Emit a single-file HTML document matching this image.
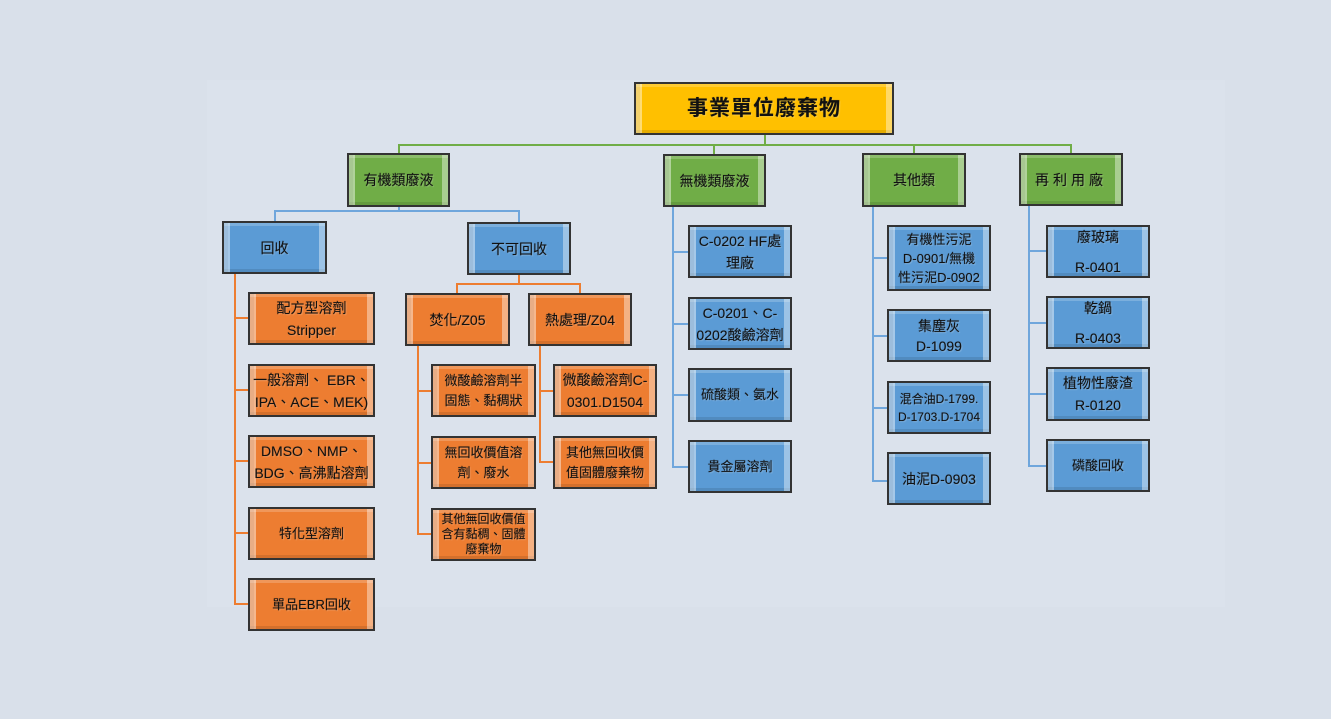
<!DOCTYPE html>
<html><head><meta charset="utf-8"><style>
body{margin:0;width:1331px;height:719px;background:#d9e0ea;position:relative;overflow:hidden;font-family:"Liberation Sans","Noto Sans CJK TC",sans-serif}
.panel{position:absolute;left:207px;top:80px;width:1018px;height:527px;background:#dbe2ec}
.b{position:absolute;box-sizing:border-box;border:2px solid #333;display:flex;align-items:center;justify-content:center;text-align:center;font-size:13px;line-height:20px;color:#111;text-shadow:0 0 1px rgba(0,0,0,0.35),1px 1px 1px rgba(255,255,255,0.25);
box-shadow:inset 4px 0 0 rgba(0,0,0,0.05),inset 6px 0 0 rgba(255,255,255,0.45),inset -6px 0 0 rgba(255,255,255,0.4),inset 0 3px 0 rgba(255,255,255,0.2),inset 0 -3px 0 rgba(0,0,0,0.1)}
.y{background:#ffc000;font-size:21px;font-weight:bold;letter-spacing:1px}
.g{background:#70ad47;font-size:14px}
.u{background:#5b9bd5}
.o{background:#ed7d31}
.l{position:absolute}
.lg{background:#70ad47}.lu{background:#6fa6dc}.lo{background:#ed7d31}
</style></head><body>
<div class="panel"></div>
<div class="l lg" style="left:764px;top:134px;width:2px;height:11px"></div>
<div class="l lg" style="left:398px;top:144px;width:673px;height:2px"></div>
<div class="l lg" style="left:398px;top:144px;width:2px;height:10px"></div>
<div class="l lg" style="left:713px;top:144px;width:2px;height:10px"></div>
<div class="l lg" style="left:913px;top:144px;width:2px;height:10px"></div>
<div class="l lg" style="left:1070px;top:144px;width:2px;height:10px"></div>
<div class="l lu" style="left:398px;top:206px;width:2px;height:6px"></div>
<div class="l lu" style="left:274px;top:210px;width:246px;height:2px"></div>
<div class="l lu" style="left:274px;top:210px;width:2px;height:12px"></div>
<div class="l lu" style="left:518px;top:210px;width:2px;height:12px"></div>
<div class="l lo" style="left:234px;top:273px;width:2px;height:332px"></div>
<div class="l lo" style="left:234px;top:317px;width:14px;height:2px"></div>
<div class="l lo" style="left:234px;top:389px;width:14px;height:2px"></div>
<div class="l lo" style="left:234px;top:460px;width:14px;height:2px"></div>
<div class="l lo" style="left:234px;top:532px;width:14px;height:2px"></div>
<div class="l lo" style="left:234px;top:603px;width:14px;height:2px"></div>
<div class="l lo" style="left:518px;top:274px;width:2px;height:10px"></div>
<div class="l lo" style="left:456px;top:283px;width:125px;height:2px"></div>
<div class="l lo" style="left:456px;top:283px;width:2px;height:10px"></div>
<div class="l lo" style="left:579px;top:283px;width:2px;height:10px"></div>
<div class="l lo" style="left:417px;top:345px;width:2px;height:190px"></div>
<div class="l lo" style="left:417px;top:390px;width:14px;height:2px"></div>
<div class="l lo" style="left:417px;top:462px;width:14px;height:2px"></div>
<div class="l lo" style="left:417px;top:533px;width:14px;height:2px"></div>
<div class="l lo" style="left:539px;top:345px;width:2px;height:118px"></div>
<div class="l lo" style="left:539px;top:390px;width:14px;height:2px"></div>
<div class="l lo" style="left:539px;top:461px;width:14px;height:2px"></div>
<div class="l lu" style="left:672px;top:206px;width:2px;height:262px"></div>
<div class="l lu" style="left:672px;top:251px;width:16px;height:2px"></div>
<div class="l lu" style="left:672px;top:323px;width:16px;height:2px"></div>
<div class="l lu" style="left:672px;top:394px;width:16px;height:2px"></div>
<div class="l lu" style="left:672px;top:466px;width:16px;height:2px"></div>
<div class="l lu" style="left:872px;top:206px;width:2px;height:276px"></div>
<div class="l lu" style="left:872px;top:257px;width:15px;height:2px"></div>
<div class="l lu" style="left:872px;top:335px;width:15px;height:2px"></div>
<div class="l lu" style="left:872px;top:407px;width:15px;height:2px"></div>
<div class="l lu" style="left:872px;top:480px;width:15px;height:2px"></div>
<div class="l lu" style="left:1028px;top:205px;width:2px;height:262px"></div>
<div class="l lu" style="left:1028px;top:250px;width:18px;height:2px"></div>
<div class="l lu" style="left:1028px;top:322px;width:18px;height:2px"></div>
<div class="l lu" style="left:1028px;top:393px;width:18px;height:2px"></div>
<div class="l lu" style="left:1028px;top:465px;width:18px;height:2px"></div>

<div class="b y" style="left:634px;top:82px;width:260px;height:53px">事業單位廢棄物</div>
<div class="b g" style="left:347px;top:153px;width:103px;height:54px">有機類廢液</div>
<div class="b g" style="left:663px;top:154px;width:103px;height:53px">無機類廢液</div>
<div class="b g" style="left:862px;top:153px;width:104px;height:54px">其他類</div>
<div class="b g" style="left:1019px;top:153px;width:104px;height:53px;letter-spacing:4px">再利用廠</div>

<div class="b u" style="left:222px;top:221px;width:105px;height:53px;font-size:14px">回收</div>
<div class="b u" style="left:467px;top:222px;width:104px;height:53px;font-size:14px">不可回收</div>

<div class="b o" style="left:248px;top:292px;width:127px;height:53px;font-size:14px;line-height:22px">配方型溶劑<br>Stripper</div>
<div class="b o" style="left:248px;top:364px;width:127px;height:53px;font-size:14px;line-height:22px">一般溶劑、 EBR、<br>IPA、ACE、MEK)</div>
<div class="b o" style="left:248px;top:435px;width:127px;height:53px;font-size:14px;line-height:22px">DMSO、NMP、<br>BDG、高沸點溶劑</div>
<div class="b o" style="left:248px;top:507px;width:127px;height:53px">特化型溶劑</div>
<div class="b o" style="left:248px;top:578px;width:127px;height:53px">單品EBR回收</div>

<div class="b o" style="left:405px;top:293px;width:105px;height:53px;font-size:14px">焚化/Z05</div>
<div class="b o" style="left:528px;top:293px;width:104px;height:53px;font-size:14px">熱處理/Z04</div>

<div class="b o" style="left:431px;top:364px;width:105px;height:53px">微酸鹼溶劑半<br>固態、黏稠狀</div>
<div class="b o" style="left:431px;top:436px;width:105px;height:53px">無回收價值溶<br>劑、廢水</div>
<div class="b o" style="left:431px;top:508px;width:105px;height:53px;font-size:12px;line-height:15px">其他無回收價值<br>含有黏稠、固體<br>廢棄物</div>
<div class="b o" style="left:553px;top:364px;width:104px;height:53px;font-size:14px;line-height:22px">微酸鹼溶劑C-<br>0301.D1504</div>
<div class="b o" style="left:553px;top:436px;width:104px;height:53px">其他無回收價<br>值固體廢棄物</div>

<div class="b u" style="left:688px;top:225px;width:104px;height:53px;font-size:14px;line-height:22px">C-0202 HF處<br>理廠</div>
<div class="b u" style="left:688px;top:297px;width:104px;height:53px;font-size:14px;line-height:22px">C-0201、C-<br>0202酸鹼溶劑</div>
<div class="b u" style="left:688px;top:368px;width:104px;height:54px">硫酸類、氨水</div>
<div class="b u" style="left:688px;top:440px;width:104px;height:53px">貴金屬溶劑</div>

<div class="b u" style="left:887px;top:225px;width:104px;height:66px;line-height:19px">有機性污泥<br>D-0901/無機<br>性污泥D-0902</div>
<div class="b u" style="left:887px;top:309px;width:104px;height:53px;font-size:14px;line-height:20px">集塵灰<br>D-1099</div>
<div class="b u" style="left:887px;top:381px;width:104px;height:53px;font-size:12px;line-height:18px">混合油D-1799.<br>D-1703.D-1704</div>
<div class="b u" style="left:887px;top:452px;width:104px;height:53px;font-size:14px">油泥D-0903</div>

<div class="b u" style="left:1046px;top:225px;width:104px;height:53px;font-size:14px;line-height:30px">廢玻璃<br>R-0401</div>
<div class="b u" style="left:1046px;top:296px;width:104px;height:53px;font-size:14px;line-height:30px">乾鍋<br>R-0403</div>
<div class="b u" style="left:1046px;top:367px;width:104px;height:54px;font-size:14px;line-height:22px">植物性廢渣<br>R-0120</div>
<div class="b u" style="left:1046px;top:439px;width:104px;height:53px">磷酸回收</div>
</body></html>
